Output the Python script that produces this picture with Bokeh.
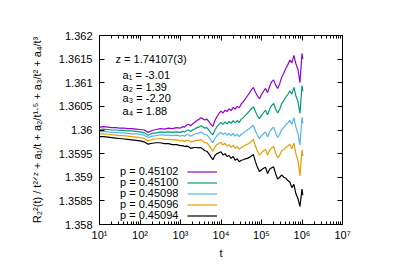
from bokeh.plotting import figure
from bokeh.models import (Range1d, FixedTicker, LogAxis, LinearAxis, Label,
                          Legend, LegendItem)
from bokeh.embed import file_html
from bokeh.resources import INLINE

# ---------------- data ----------------
log_t = [1.0, 1.1, 1.2, 1.3, 1.4, 1.5, 1.6, 1.7, 1.8, 1.9, 2.0, 2.1, 2.2, 2.3,
         2.4, 2.5, 2.6, 2.7, 2.8, 2.9, 3.0, 3.05, 3.1, 3.15, 3.2, 3.25, 3.3,
         3.35, 3.4, 3.45, 3.5, 3.55, 3.6, 3.65, 3.7, 3.75, 3.8, 3.85, 3.9,
         3.95, 4.0, 4.05, 4.1, 4.15, 4.2, 4.25, 4.3, 4.35, 4.4, 4.45, 4.5,
         4.55, 4.6, 4.65, 4.7, 4.75, 4.8, 4.85, 4.9, 4.95, 5.0, 5.05, 5.1,
         5.15, 5.2, 5.25, 5.3, 5.35, 5.4, 5.45, 5.5, 5.55, 5.6, 5.65, 5.7,
         5.75, 5.8, 5.85, 5.9, 5.95, 6.0, 6.02]

r_45102 = [1.36006, 1.36007, 1.36006, 1.36005, 1.36005, 1.36004, 1.36004,
           1.36003, 1.36003, 1.36002, 1.36001, 1.36000, 1.35995, 1.35999,
           1.36001, 1.36003, 1.36002, 1.36004, 1.36003, 1.36005, 1.36004,
           1.36007, 1.36006, 1.36010, 1.36012, 1.36009, 1.36013, 1.36016,
           1.36020, 1.36022, 1.36026, 1.36024, 1.36021, 1.36023, 1.36018,
           1.36012, 1.36008, 1.36020, 1.36028, 1.36035, 1.36040, 1.36036,
           1.36042, 1.36039, 1.36045, 1.36041, 1.36048, 1.36044, 1.36050,
           1.36047, 1.36055, 1.36060, 1.36066, 1.36072, 1.36078, 1.36085,
           1.36090, 1.36080, 1.36072, 1.36066, 1.36075, 1.36082, 1.36088,
           1.36079, 1.36092, 1.36102, 1.36106, 1.36095, 1.36088, 1.36098,
           1.36112, 1.36120, 1.36130, 1.36138, 1.36148, 1.36142, 1.36158,
           1.36140, 1.36128, 1.36100, 1.36162, 1.36150]

r_45100 = [1.36001, 1.36002, 1.36001, 1.36000, 1.36000, 1.35999, 1.35999,
           1.35998, 1.35998, 1.35997, 1.35996, 1.35994, 1.35989, 1.35993,
           1.35994, 1.35996, 1.35995, 1.35996, 1.35995, 1.35996, 1.35995,
           1.35997, 1.35996, 1.35999, 1.36000, 1.35997, 1.36000, 1.36002,
           1.36005, 1.36006, 1.36009, 1.36007, 1.36004, 1.36005, 1.36000,
           1.35994, 1.35990, 1.36000, 1.36007, 1.36012, 1.36016, 1.36012,
           1.36017, 1.36013, 1.36018, 1.36014, 1.36020, 1.36015, 1.36020,
           1.36016, 1.36023, 1.36026, 1.36031, 1.36035, 1.36040, 1.36045,
           1.36049, 1.36039, 1.36030, 1.36024, 1.36031, 1.36037, 1.36042,
           1.36032, 1.36044, 1.36052, 1.36056, 1.36044, 1.36036, 1.36044,
           1.36056, 1.36062, 1.36070, 1.36075, 1.36083, 1.36076, 1.36090,
           1.36072, 1.36060, 1.36035, 1.36094, 1.36082]

r_45098 = [1.35996, 1.35997, 1.35996, 1.35995, 1.35995, 1.35994, 1.35994,
           1.35993, 1.35992, 1.35992, 1.35991, 1.35989, 1.35984, 1.35987,
           1.35988, 1.35990, 1.35989, 1.35989, 1.35988, 1.35989, 1.35987,
           1.35989, 1.35987, 1.35990, 1.35990, 1.35987, 1.35989, 1.35991,
           1.35993, 1.35993, 1.35996, 1.35993, 1.35990, 1.35990, 1.35985,
           1.35978, 1.35973, 1.35982, 1.35988, 1.35992, 1.35995, 1.35990,
           1.35994, 1.35989, 1.35993, 1.35988, 1.35993, 1.35987, 1.35991,
           1.35986, 1.35991, 1.35993, 1.35997, 1.36000, 1.36003, 1.36007,
           1.36010, 1.35998, 1.35989, 1.35982, 1.35988, 1.35992, 1.35996,
           1.35985, 1.35996, 1.36002, 1.36006, 1.35993, 1.35984, 1.35991,
           1.36001, 1.36005, 1.36011, 1.36015, 1.36021, 1.36012, 1.36026,
           1.36006, 1.35993, 1.35968, 1.36027, 1.36014]

r_45096 = [1.35992, 1.35992, 1.35991, 1.35990, 1.35989, 1.35988, 1.35988,
           1.35987, 1.35986, 1.35985, 1.35984, 1.35982, 1.35977, 1.35980,
           1.35981, 1.35982, 1.35980, 1.35980, 1.35979, 1.35979, 1.35977,
           1.35978, 1.35976, 1.35978, 1.35978, 1.35974, 1.35976, 1.35977,
           1.35978, 1.35978, 1.35980, 1.35977, 1.35973, 1.35973, 1.35968,
           1.35961, 1.35955, 1.35964, 1.35969, 1.35972, 1.35974, 1.35968,
           1.35972, 1.35966, 1.35969, 1.35963, 1.35968, 1.35961, 1.35965,
           1.35959, 1.35963, 1.35965, 1.35968, 1.35970, 1.35972, 1.35976,
           1.35980, 1.35966, 1.35955, 1.35947, 1.35952, 1.35956, 1.35959,
           1.35947, 1.35957, 1.35962, 1.35965, 1.35951, 1.35941, 1.35947,
           1.35956, 1.35959, 1.35963, 1.35966, 1.35970, 1.35960, 1.35972,
           1.35950, 1.35935, 1.35903, 1.35958, 1.35945]

r_45094 = [1.35986, 1.35986, 1.35985, 1.35984, 1.35983, 1.35982, 1.35981,
           1.35980, 1.35979, 1.35978, 1.35977, 1.35975, 1.35970, 1.35972,
           1.35973, 1.35973, 1.35971, 1.35971, 1.35969, 1.35969, 1.35967,
           1.35967, 1.35965, 1.35966, 1.35965, 1.35961, 1.35962, 1.35963,
           1.35963, 1.35962, 1.35963, 1.35960, 1.35956, 1.35955, 1.35950,
           1.35943, 1.35937, 1.35946, 1.35950, 1.35952, 1.35954, 1.35947,
           1.35950, 1.35944, 1.35946, 1.35940, 1.35944, 1.35936, 1.35939,
           1.35933, 1.35936, 1.35937, 1.35939, 1.35940, 1.35942, 1.35945,
           1.35948, 1.35933, 1.35921, 1.35912, 1.35916, 1.35919, 1.35921,
           1.35908, 1.35917, 1.35920, 1.35922, 1.35907, 1.35896, 1.35900,
           1.35905, 1.35900, 1.35898, 1.35893, 1.35890, 1.35878, 1.35885,
           1.35865, 1.35855, 1.35838, 1.35875, 1.35862]

series_labels = ["p = 0.45102", "p = 0.45100", "p = 0.45098", "p = 0.45096",
                 "p = 0.45094"]
series_values = [r_45102, r_45100, r_45098, r_45096, r_45094]
series_colors = ["#9400d3", "#009e73", "#56b4e9", "#e69f00", "#000000"]

x_ticks = [1e1, 1e2, 1e3, 1e4, 1e5, 1e6, 1e7]
x_tick_labels = ["10¹", "10²", "10³", "10⁴", "10⁵", "10⁶", "10⁷"]
y_ticks = [1.358, 1.3585, 1.359, 1.3595, 1.36, 1.3605, 1.361, 1.3615, 1.362]
y_tick_labels = ["1.358", "1.3585", "1.359", "1.3595", "1.36", "1.3605",
                 "1.361", "1.3615", "1.362"]

fit_z = "z = 1.74107(3)"
fit_lines = ["a₁ = -3.01", "a₂ =  1.39", "a₃ = -2.20", "a₄ =  1.88"]

FONT = "Liberation Sans"
t_vals = [10 ** v for v in log_t]

# ---------------- figure ----------------
p = figure(x_axis_type="log", frame_width=243, frame_height=189,
           min_border_left=99, min_border_right=54, min_border_top=35,
           min_border_bottom=55, output_backend="svg", toolbar_location=None,
           x_range=Range1d(1e1, 1e7), y_range=Range1d(1.358, 1.362))
p.grid.visible = False
p.outline_line_color = "black"
p.outline_line_width = 1
p.background_fill_color = "white"
p.border_fill_color = "white"

minor = [m * 10 ** k for k in range(1, 7) for m in range(2, 10)]

xa = p.xaxis[0]
xa.ticker = FixedTicker(ticks=x_ticks, minor_ticks=minor)
xa.major_label_overrides = {float(k): v for k, v in zip(x_ticks, x_tick_labels)}
xa.axis_label = "t"

ya = p.yaxis[0]
ya.ticker = FixedTicker(ticks=y_ticks)
ya.major_label_overrides = {float(k): v for k, v in zip(y_ticks, y_tick_labels)}
ya.axis_label = "R₂²(t) / t²ᐟᶻ + a₁/t + a₂/t¹·⁵ + a₃/t² + a₄/t³"

top = LogAxis(ticker=FixedTicker(ticks=x_ticks, minor_ticks=minor),
              major_label_text_color=None)
right = LinearAxis(ticker=FixedTicker(ticks=y_ticks),
                   major_label_text_color=None)
p.add_layout(top, "above")
p.add_layout(right, "right")

for ax in [xa, ya, top, right]:
    ax.axis_line_color = "black"
    ax.major_tick_in = 5
    ax.major_tick_out = 0
    ax.minor_tick_in = 3
    ax.minor_tick_out = 0
    ax.major_tick_line_color = "black"
    ax.minor_tick_line_color = "black"
    ax.major_label_text_font = FONT
    ax.major_label_text_font_size = "11px"
    ax.axis_label_text_font = FONT
    ax.axis_label_text_font_style = "normal"
    ax.axis_label_text_font_size = "11px"
    ax.axis_label_text_color = "black"
for ax in [xa, ya]:
    ax.major_label_text_color = "black"
ya.minor_tick_line_color = None
right.minor_tick_line_color = None
ya.major_label_standoff = 7
ya.axis_label_standoff = 13
xa.major_label_standoff = 4
xa.axis_label_standoff = 3
top.major_label_standoff = 0
right.major_label_standoff = 0

renderers = []
for vals, col in zip(series_values, series_colors):
    r = p.line(t_vals, vals, line_color=col, line_width=1.2)
    renderers.append(r)

# fit annotations
p.add_layout(Label(x=10 ** 1.395, y=1.36150, text=fit_z, text_font=FONT,
                   text_font_size="11px", text_baseline="middle",
                   text_color="black"))
fit_y = [1.36117, 1.36092, 1.36067, 1.36041]
for txt, yy in zip(fit_lines, fit_y):
    p.add_layout(Label(x=10 ** 1.57, y=yy, text=txt, text_font=FONT,
                       text_font_size="11px", text_baseline="middle",
                       text_color="black"))

# legend: labels on the left, samples on the right (gnuplot style),
# one small legend per row so that the row pitch matches the original
blank = p.line([], [], line_alpha=0)
row_offsets = [47, 36, 25, 14, 3]  # px above the bottom of the frame
for lab, r, off in zip(series_labels, renderers, row_offsets):
    common = dict(glyph_height=11, label_height=11, label_standoff=0,
                  spacing=0, padding=0, margin=0, border_line_color=None,
                  background_fill_alpha=0, label_text_font=FONT,
                  label_text_font_size="11px", label_text_color="black")
    p.add_layout(Legend(items=[LegendItem(label=lab, renderers=[blank])],
                        location=(20, off), glyph_width=1, **common), "center")
    p.add_layout(Legend(items=[LegendItem(label=" ", renderers=[r])],
                        location=(88, off), glyph_width=30, **common), "center")

open("out.html", "w").write(file_html(p, INLINE))
